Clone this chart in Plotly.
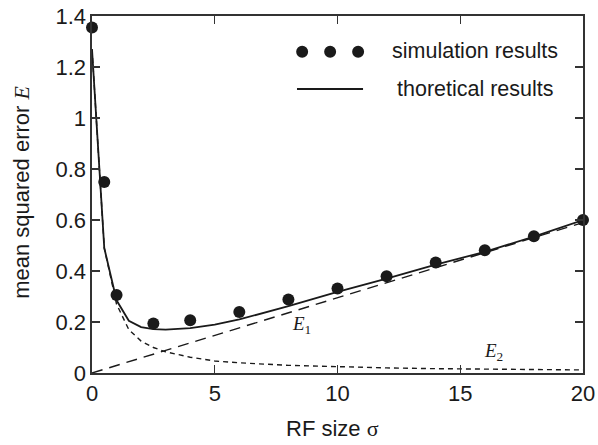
import plotly.graph_objects as go

# Simulation results
sim_x = [0, 0.5, 1, 2.5, 4, 6, 8, 10, 12, 14, 16, 18, 20]
sim_y = [1.355, 0.749, 0.306, 0.194, 0.207, 0.239, 0.288, 0.331, 0.379, 0.433, 0.481, 0.536, 0.600]

# Theoretical total E
theo_x = [0, 0.5, 1, 1.5, 2, 2.5, 3, 4, 5, 6, 8, 10, 12, 14, 16, 18, 20]
theo_y = [1.27, 0.49, 0.285, 0.205, 0.18, 0.172, 0.170, 0.176, 0.19, 0.21, 0.262, 0.318, 0.37, 0.425, 0.475, 0.535, 0.600]

# E1 component (linear)
e1_x = [0, 20]
e1_y = [0, 0.59]

# E2 component (decaying)
e2_x = [0, 0.5, 1, 1.5, 2, 2.5, 3, 4, 5, 6, 8, 10, 12, 14, 16, 18, 20]
e2_y = [1.27, 0.49, 0.27, 0.17, 0.125, 0.10, 0.083, 0.062, 0.047, 0.04, 0.03, 0.024, 0.02, 0.017, 0.015, 0.013, 0.012]

x_ticks = [0, 5, 10, 15, 20]
y_ticks = [0, 0.2, 0.4, 0.6, 0.8, 1.0, 1.2, 1.4]
y_tick_labels = ["0", "0.2", "0.4", "0.6", "0.8", "1", "1.2", "1.4"]

INK = "#1a1a1a"
AX = "#333333"
FONT = "Liberation Sans, Arial, sans-serif"
SERIF = "Liberation Serif, Times New Roman, serif"

fig = go.Figure()
fig.add_trace(go.Scatter(x=e2_x, y=e2_y, mode="lines",
                         line=dict(color=INK, width=1.4, dash="5px,4px"),
                         showlegend=False, cliponaxis=False))
fig.add_trace(go.Scatter(x=e1_x, y=e1_y, mode="lines",
                         line=dict(color=INK, width=1.4, dash="11px,7px"),
                         showlegend=False, cliponaxis=False))
fig.add_trace(go.Scatter(x=theo_x, y=theo_y, mode="lines",
                         line=dict(color=INK, width=1.8),
                         showlegend=False, cliponaxis=False))
fig.add_trace(go.Scatter(x=sim_x, y=sim_y, mode="markers",
                         marker=dict(color=INK, size=12),
                         showlegend=False, cliponaxis=False))

# Legend built from shapes + annotations
shapes = []
for px in [0.428, 0.485, 0.542]:
    shapes.append(dict(type="circle", xref="paper", yref="paper",
                       x0=px - 0.0122, x1=px + 0.0122, y0=0.900 - 0.0168, y1=0.900 + 0.0168,
                       fillcolor=INK, line=dict(width=0)))
shapes.append(dict(type="line", xref="paper", yref="paper", x0=0.4175, x1=0.552,
                   y0=0.7955, y1=0.7955, line=dict(color=INK, width=1.8)))

annotations = [
    dict(text="simulation results", xref="paper", yref="paper", x=0.607, y=0.903,
         xanchor="left", yanchor="middle", showarrow=False, font=dict(family=FONT, size=21.5, color=INK)),
    dict(text="thoretical results", xref="paper", yref="paper", x=0.617, y=0.795,
         xanchor="left", yanchor="middle", showarrow=False, font=dict(family=FONT, size=21.5, color=INK)),
    dict(text="<i>E</i><sub>1</sub>", x=8.55, y=0.187, xref="x", yref="y",
         xanchor="center", yanchor="middle", showarrow=False, font=dict(family=SERIF, size=19, color=INK)),
    dict(text="<i>E</i><sub>2</sub>", x=16.35, y=0.082, xref="x", yref="y",
         xanchor="center", yanchor="middle", showarrow=False, font=dict(family=SERIF, size=19, color=INK)),
    # axis titles
    dict(text="RF size <span style='font-family:Liberation Serif'>σ</span>", xref="paper", yref="paper",
         x=0.489, y=-0.155, xanchor="center", yanchor="middle", showarrow=False,
         font=dict(family=FONT, size=22, color=INK)),
    dict(text="mean squared error <span style='font-family:Liberation Serif'><i>E</i></span>",
         xref="paper", yref="paper", x=-0.145, y=0.507, xanchor="center", yanchor="middle",
         textangle=-90, showarrow=False, font=dict(family=FONT, size=22, color=INK)),
]

fig.update_layout(
    width=598, height=445,
    margin=dict(l=92, r=15, t=16, b=72),
    paper_bgcolor="white", plot_bgcolor="white",
    font=dict(family=FONT, size=22, color=INK),
    shapes=shapes, annotations=annotations,
    showlegend=False,
    xaxis=dict(range=[0, 20], tickvals=x_ticks, ticks="inside", ticklen=8, tickwidth=1.4,
               tickcolor=AX, showline=True, linecolor=AX, linewidth=1.6, mirror="ticks",
               showgrid=False, zeroline=False, automargin=False, ticklabeloverflow="allow",
               tickfont=dict(size=22)),
    yaxis=dict(range=[0, 1.4], tickvals=y_ticks, ticktext=y_tick_labels, ticks="inside", ticklen=8,
               tickwidth=1.4, tickcolor=AX, showline=True, linecolor=AX, linewidth=1.6, mirror="ticks",
               showgrid=False, zeroline=False, automargin=False, ticklabeloverflow="allow",
               tickfont=dict(size=22)),
)

# remove the default 8px page margin so the 598x445 figure fills the window exactly
fig.write_html("out.html", config={"displayModeBar": False, "staticPlot": True},
               post_script="document.body.style.margin='0';document.body.style.overflow='hidden';")
